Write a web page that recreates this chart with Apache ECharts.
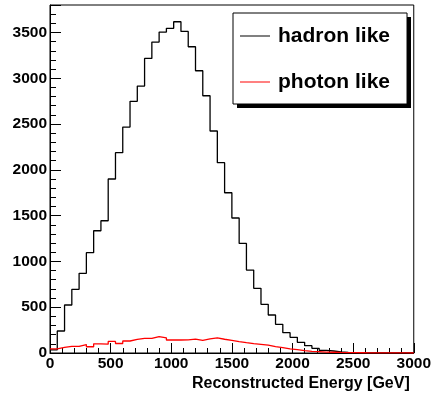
<!DOCTYPE html>
<html>
<head>
<meta charset="utf-8">
<script src="https://cdn.jsdelivr.net/npm/echarts@6/dist/echarts.min.js"></script>
<style>
html,body{margin:0;padding:0;background:#fff;}
#chart{width:434px;height:394px;}
</style>
</head>
<body>
<div id="chart"></div>
<script>
// Histogram: 50 bins of 60 GeV from 0 to 3000 GeV
var binWidth = 60;
var xMin = 0;
var xMax = 3000;
var seriesNames = ['hadron like', 'photon like'];
var hadronCounts = [35, 240, 524, 695, 870, 1095, 1335, 1444, 1900, 2187,
  2467, 2748, 2915, 3217, 3395, 3504, 3545, 3617, 3511, 3344,
  3082, 2809, 2424, 2078, 1750, 1474, 1197, 906, 706, 532,
  415, 313, 222, 171, 117, 80, 51, 29, 22, 12,
  7, 4, 2, 1, 1, 0, 0, 0, 0, 0];
var photonCounts = [45, 62, 72, 72, 92, 68, 100, 96, 126, 104,
  131, 149, 159, 159, 180, 166, 142, 142, 144, 152,
  138, 155, 165, 150, 139, 125, 113, 102, 95, 87,
  70, 58, 45, 36, 26, 18, 15, 10, 8, 6,
  5, 4, 3, 2, 2, 1, 1, 1, 1, 0];
var yMax = 3800;
var yMajor = 500;
var yMinor = 100;
var xTitle = 'Reconstructed Energy [GeV]';

function histPoints(counts) {
  var pts = [];
  for (var i = 0; i < counts.length; i++) {
    pts.push([xMin + i * binWidth, counts[i]]);
  }
  pts.push([xMin + counts.length * binWidth, counts[counts.length - 1]]);
  return pts;
}

var FONT = "'Liberation Sans', Arial, Helvetica, sans-serif";
var chart = echarts.init(document.getElementById('chart'), null, {renderer: 'canvas'});
chart.setOption({
  animation: false,
  backgroundColor: '#fff',
  grid: {left: 50, right: 17, top: 5, bottom: 41, show: true, borderColor: '#000', borderWidth: 1, backgroundColor: 'transparent'},
  graphic: [{
    type: 'rect', z: 3, silent: true,
    shape: {x: 237, y: 17, width: 174, height: 91},
    style: {fill: '#000'}
  }],
  legend: {
    orient: 'vertical',
    left: 233, top: 13, z: 4,
    padding: [11, 17, 10, 7],
    itemWidth: 30, itemHeight: 14, itemGap: 22,
    backgroundColor: '#fff',
    borderColor: '#000', borderWidth: 1,
    textStyle: {fontFamily: FONT, fontWeight: 'bold', fontSize: 21, color: '#000', lineHeight: 24, padding: [0, 0, 0, 3]},
    data: [
      {name: seriesNames[0], icon: 'path://M0,0 L30,0 L30,1 L0,1 Z'},
      {name: seriesNames[1], icon: 'path://M0,0 L30,0 L30,1 L0,1 Z'}
    ]
  },
  xAxis: {
    type: 'value', min: xMin, max: xMax, interval: 500,
    axisLine: {show: true, lineStyle: {color: '#000', width: 1}},
    axisTick: {show: true, inside: true, length: 10, lineStyle: {color: '#000', width: 1}},
    minorTick: {show: true, splitNumber: 5, length: 5, lineStyle: {color: '#000', width: 1}},
    splitLine: {show: false},
    axisLabel: {fontFamily: FONT, fontWeight: 'bold', fontSize: 15.5, color: '#000', margin: 3,
      formatter: function (v) { return String(v); }},
    name: xTitle,
    nameLocation: 'end',
    nameGap: -4,
    nameTextStyle: {fontFamily: FONT, fontWeight: 'bold', fontSize: 16, color: '#000', align: 'right', verticalAlign: 'top', padding: [23, 0, 0, 0]}
  },
  yAxis: [{
    type: 'value', min: 0, max: yMax, interval: yMajor, position: 'left',
    axisLine: {show: true, lineStyle: {color: '#000', width: 1}},
    axisTick: {show: true, inside: true, length: 11, lineStyle: {color: '#000', width: 1}},
    splitLine: {show: false},
    axisLabel: {fontFamily: FONT, fontWeight: 'bold', fontSize: 15.5, color: '#000', margin: 3,
      formatter: function (v) { return (v % yMajor === 0) ? String(v) : ''; }}
  }, {
    type: 'value', min: 0, max: yMax, interval: yMinor, position: 'left',
    axisLine: {show: false},
    axisTick: {show: true, inside: true, length: 6, lineStyle: {color: '#000', width: 1}},
    splitLine: {show: false},
    axisLabel: {show: false}
  }],
  series: [{
    name: seriesNames[0], type: 'line', step: 'end', symbol: 'none',
    xAxisIndex: 0, yAxisIndex: 0,
    lineStyle: {color: '#000', width: 1.3},
    itemStyle: {color: '#000'},
    data: histPoints(hadronCounts)
  }, {
    name: seriesNames[1], type: 'line', step: 'end', symbol: 'none',
    xAxisIndex: 0, yAxisIndex: 0,
    lineStyle: {color: '#ff0000', width: 1.3},
    itemStyle: {color: '#ff0000'},
    data: histPoints(photonCounts)
  }]
});
</script>
</body>
</html>
